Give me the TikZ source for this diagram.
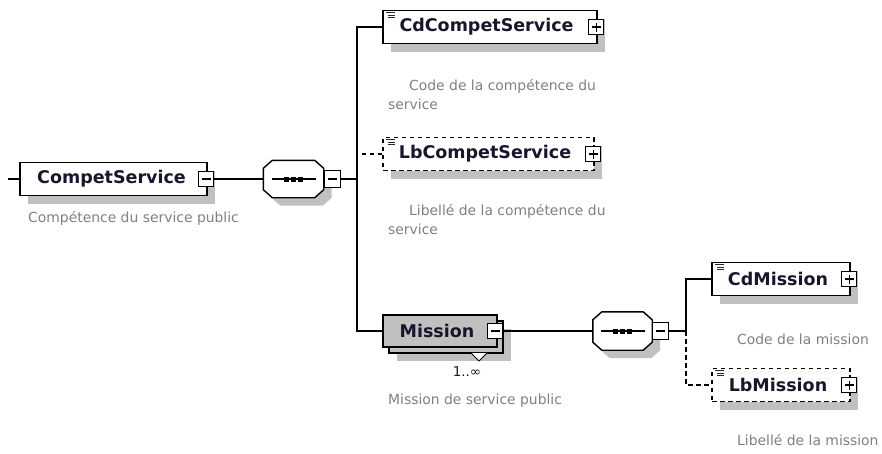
\documentclass[tikz,border=0pt]{standalone}
\usepackage{fontspec}
\setmainfont{DejaVu Sans}
\usetikzlibrary{shadows}
\definecolor{shgray}{RGB}{192,192,192}
\definecolor{descgray}{RGB}{128,128,128}
\definecolor{namecol}{RGB}{22,22,45}
\definecolor{mfill}{RGB}{192,192,192}
\newcommand\elicon[1]{\draw[line width=1pt, black!85] ([xshift=3.5pt,yshift=-2.5pt]#1.north west) -- ++(9,0) ([xshift=5.5pt,yshift=-5.3pt]#1.north west) -- ++(7,0) ([xshift=5.5pt,yshift=-8.1pt]#1.north west) -- ++(7,0);}
\newcommand\octpath[3]{([xshift=9pt+#2,yshift=#3]#1.north west) -- ([xshift=-9pt+#2,yshift=#3]#1.north east) -- ([xshift=#2,yshift=-8pt+#3]#1.north east) -- ([xshift=#2,yshift=8pt+#3]#1.south east) -- ([xshift=-9pt+#2,yshift=#3]#1.south east) -- ([xshift=9pt+#2,yshift=#3]#1.south west) -- ([xshift=#2,yshift=8pt+#3]#1.south west) -- ([xshift=#2,yshift=-8pt+#3]#1.north west) -- cycle}
\begin{document}
\begin{tikzpicture}[x=1pt,y=-1pt,
  conn/.style={line width=1.4pt},
  elemnos/.style={draw, line width=1.5pt, fill=white, minimum height=33pt, inner sep=0pt,
    font=\bfseries\fontsize{17.5}{20}\selectfont, text=namecol},
  elem/.style={elemnos, drop shadow={shadow xshift=8pt, shadow yshift=-8pt, fill=shgray, opacity=1}},
  optelem/.style={elem, dash pattern=on 4.5pt off 3.5pt},
  tgl/.style={draw, line width=1.1pt, fill=white, minimum width=15pt, minimum height=15pt, inner sep=0pt},
  tplus/.style={tgl, path picture={\draw[line width=1.3pt] ([xshift=-4.5pt]path picture bounding box.center) -- ([xshift=4.5pt]path picture bounding box.center) ([yshift=-4.5pt]path picture bounding box.center) -- ([yshift=4.5pt]path picture bounding box.center);}},
  tminus/.style={tgl, path picture={\draw[line width=1.3pt] ([xshift=-4.5pt]path picture bounding box.center) -- ([xshift=4.5pt]path picture bounding box.center);}},
  seq/.style={rectangle, inner sep=0pt},
  octline/.style={line width=1.4pt, fill=white},
  desc/.style={text=descgray, font=\fontsize{13.9}{19}\selectfont, inner sep=0pt, align=left},
]
\useasboundingbox (0,0) rectangle (882,453);

% root element
\node[elem, minimum width=187pt] (cs) at (113.5,179) {CompetService\hspace*{4pt}};
\node[tminus] (tcs) at ([xshift=-1.5pt]cs.east) {};
\node[desc, anchor=west] (dcs) at (28,218) {Compétence du service public};
\coordinate (l0) at (8,179);

% sequence 1
\node[seq, minimum width=60pt, minimum height=37pt] (s1) at (293.5,179) {};
\fill[shgray] \octpath{s1}{8pt}{-8pt};
\draw[octline] \octpath{s1}{0pt}{0pt};
\node[tminus, minimum width=16pt, minimum height=17pt, anchor=west] (ts1) at (s1.east) {};
\draw[line width=1.3pt] ([xshift=-22pt]s1.center) -- ([xshift=22pt]s1.center);
\foreach \dx in {-7,0,7} \fill ([xshift=\dx pt]s1.center) ++(-2.5,-2.5) rectangle ++(5,5);
\coordinate (j1) at (357,179);

% children of sequence 1
\node[elem, minimum width=214pt] (cd) at (490,27) {CdCompetService\hspace*{7pt}};
\node[tplus] (tcd) at ([xshift=-1.5pt]cd.east) {};
\elicon{cd}
\node[desc, anchor=north west] (dcd) at (388,79) {\hspace*{21pt}Code de la compétence du\\service};

\node[optelem, minimum width=211pt] (lb) at (488.5,154) {LbCompetService\hspace*{7pt}};
\node[tplus] (tlb) at ([xshift=-1.5pt]lb.east) {};
\elicon{lb}
\node[desc, anchor=north west] (dlb) at (388,204) {\hspace*{21pt}Libellé de la compétence du\\service};

\node[elemnos, fill=mfill, minimum width=114pt, minimum height=32pt, drop shadow={shadow xshift=8pt, shadow yshift=-8pt, fill=shgray, opacity=1}] (mback) at (446,337) {};
\node[elemnos, fill=mfill, minimum width=114pt, minimum height=32pt] (mission) at (440,331) {Mission\hspace*{6pt}};
\node[tminus] (tm) at ([xshift=-2.5pt]mission.east) {};
\draw[line width=1pt, fill=white] (471,353) -- (479,361) -- (487,353);
\node[text=namecol, font=\fontsize{13.5}{15}\selectfont, inner sep=0pt] (card) at (467,372) {1..∞};
\node[desc, anchor=west] (dm) at (388,401) {Mission de service public};

% connectors level 1
\draw[conn] (l0) -- (cs.west);
\draw[conn] (tcs.east) -- (s1.west);
\draw[conn] (ts1.east) -- (j1);
\draw[conn] (cd.west) -| (j1) |- (mission.west);
\draw[conn, dash pattern=on 4.5pt off 3.5pt] (lb.west) -- (lb.west -| j1);

% sequence 2
\node[seq, minimum width=59pt, minimum height=38pt] (s2) at (622.5,331) {};
\fill[shgray] \octpath{s2}{8pt}{-8pt};
\draw[octline] \octpath{s2}{0pt}{0pt};
\node[tminus, minimum width=16pt, minimum height=17pt, anchor=west] (ts2) at (s2.east) {};
\draw[line width=1.3pt] ([xshift=-22pt]s2.center) -- ([xshift=22pt]s2.center);
\foreach \dx in {-7,0,7} \fill ([xshift=\dx pt]s2.center) ++(-2.5,-2.5) rectangle ++(5,5);
\coordinate (j2) at (686,331);
\draw[conn] (tm.east) -- (s2.west);

% children of sequence 2
\node[elem, minimum width=138pt] (cdm) at (781,279) {CdMission\hspace*{6pt}};
\node[tplus] (tcdm) at ([xshift=-1.5pt]cdm.east) {};
\elicon{cdm}
\node[desc, anchor=west] (dcdm) at (737,339) {Code de la mission};

\node[optelem, minimum width=138pt] (lbm) at (781,385) {LbMission\hspace*{6pt}};
\node[tplus] (tlbm) at ([xshift=-1.5pt]lbm.east) {};
\elicon{lbm}
\node[desc, anchor=west] (dlbm) at (737,440) {Libellé de la mission};

\draw[conn] (ts2.east) -- (j2);
\draw[conn] (j2) |- (cdm.west);
\draw[conn, dash pattern=on 4.5pt off 3.5pt] (j2) |- (lbm.west);
\end{tikzpicture}
\end{document}
